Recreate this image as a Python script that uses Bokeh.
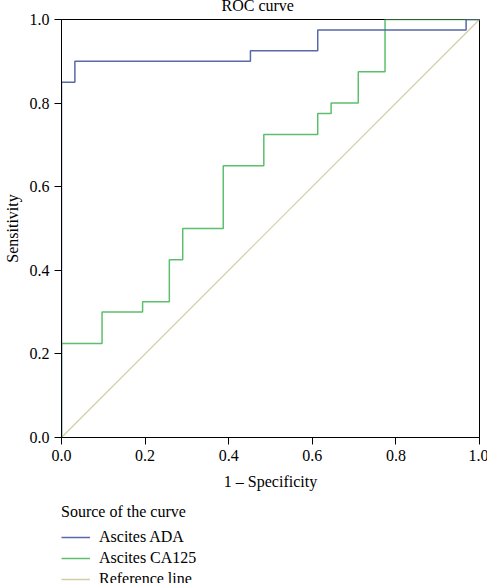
from bokeh.plotting import figure
from bokeh.layouts import column
from bokeh.models import (Legend, LegendItem, Range1d, FixedTicker,
                          CustomJSTickFormatter)
from bokeh.embed import file_html
from bokeh.resources import INLINE

# ROC data (1 - specificity, sensitivity)
ada_fpr = [0.0, 0.0, 0.032, 0.032, 0.452, 0.452, 0.613, 0.613, 0.968, 0.968, 1.0]
ada_tpr = [0.0, 0.85, 0.85, 0.90, 0.90, 0.925, 0.925, 0.975, 0.975, 1.0, 1.0]

ca125_fpr = [0.0, 0.0, 0.097, 0.097, 0.194, 0.194, 0.258, 0.258, 0.290, 0.290,
             0.387, 0.387, 0.484, 0.484, 0.613, 0.613, 0.645, 0.645, 0.710, 0.710,
             0.774, 0.774, 1.0]
ca125_tpr = [0.0, 0.225, 0.225, 0.30, 0.30, 0.325, 0.325, 0.425, 0.425, 0.50,
             0.50, 0.65, 0.65, 0.725, 0.725, 0.775, 0.775, 0.80, 0.80, 0.875,
             0.875, 1.0, 1.0]

ref_x = [0.0, 1.0]
ref_y = [0.0, 1.0]

ticks = [0.0, 0.2, 0.4, 0.6, 0.8, 1.0]
series_names = ["Ascites ADA", "Ascites CA125", "Reference line"]
colors = ["#5868a8", "#5cbf6c", "#d3cda6"]
legend_title = "Source of the curve"
chart_title = "ROC curve"

FONT = "Liberation Serif"
FS = "16px"

p = figure(width=479, height=506, output_backend="svg", toolbar_location=None,
           x_range=Range1d(0, 1), y_range=Range1d(0, 1),
           min_border_top=29, min_border_left=52, min_border_right=9,
           min_border_bottom=59)
p.frame_width = 418
p.frame_height = 418

p.title.text = chart_title
p.title.align = "left"
p.title.offset = 160
p.title.standoff = 11
p.title.text_font = FONT
p.title.text_font_size = FS
p.title.text_font_style = "normal"
p.title.text_color = "black"

p.xgrid.visible = False
p.ygrid.visible = False
p.outline_line_color = "black"
p.outline_line_width = 1
p.background_fill_color = "white"
p.border_fill_color = "white"

for ax in (p.xaxis[0], p.yaxis[0]):
    ax.ticker = FixedTicker(ticks=ticks)
    ax.formatter = CustomJSTickFormatter(code="return tick.toFixed(1);")
    ax.minor_tick_line_color = None
    ax.major_tick_in = 0
    ax.major_tick_out = 7
    ax.axis_line_color = "black"
    ax.major_tick_line_color = "black"
    ax.major_label_text_font = FONT
    ax.major_label_text_font_size = FS
    ax.major_label_text_color = "black"
    ax.axis_label_text_font = FONT
    ax.axis_label_text_font_size = FS
    ax.axis_label_text_font_style = "normal"
    ax.axis_label_text_color = "black"

p.xaxis[0].major_label_standoff = 5
p.yaxis[0].major_label_standoff = 5
p.xaxis[0].axis_label = "1 \u2013 Specificity"
p.yaxis[0].axis_label = "Sensitivity"
p.xaxis[0].axis_label_standoff = 9
p.yaxis[0].axis_label_standoff = 6

p.line(ref_x, ref_y, line_color=colors[2], line_width=1.2)
p.line(ca125_fpr, ca125_tpr, line_color=colors[1], line_width=1.5)
p.line(ada_fpr, ada_tpr, line_color=colors[0], line_width=1.5)

# legend panel below the chart
lg = figure(width=479, height=88, output_backend="svg", toolbar_location=None,
            x_range=Range1d(0, 1), y_range=Range1d(0, 1),
            min_border_top=7, min_border_left=51, min_border_right=9,
            min_border_bottom=0)
lg.axis.visible = False
lg.xgrid.visible = False
lg.ygrid.visible = False
lg.outline_line_color = None
lg.background_fill_color = "white"
lg.border_fill_color = "white"

items = []
for name, col in zip(series_names, colors):
    # placeholder renderer (outside visible range) used only for the legend glyph
    r = lg.line([5, 6], [5, 6], line_color=col, line_width=1.5)
    items.append(LegendItem(label=name, renderers=[r]))

legend = Legend(items=items, location="top_left", orientation="vertical")
legend.title = legend_title
legend.title_text_font = FONT
legend.title_text_font_size = FS
legend.title_text_font_style = "normal"
legend.title_text_color = "black"
legend.title_standoff = 7
legend.label_text_font = FONT
legend.label_text_font_size = FS
legend.label_text_color = "black"
legend.glyph_width = 29
legend.glyph_height = 14
legend.label_height = 14
legend.label_standoff = 9
legend.spacing = 3
legend.padding = 0
legend.margin = 0
legend.border_line_color = None
legend.background_fill_alpha = 0
lg.add_layout(legend, "center")

layout = column(p, lg, spacing=0)
layout.styles = {"margin-top": "-11px", "margin-bottom": "-8px"}

open("out.html", "w").write(file_html(layout, INLINE))
